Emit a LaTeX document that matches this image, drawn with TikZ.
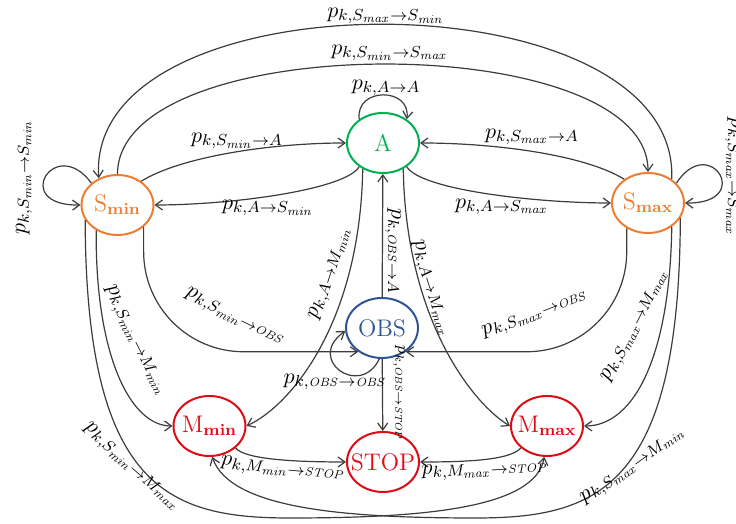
\documentclass[tikz,border=0pt]{standalone}
\usepackage{tikz}
\usetikzlibrary{
  arrows.meta,
  shapes.geometric,
  positioning
}
\definecolor{stgreen}{RGB}{0,176,80}
\definecolor{storange}{RGB}{237,125,49}
\definecolor{stblue}{RGB}{47,85,151}
\definecolor{stred}{RGB}{222,10,20}
\definecolor{edgegray}{RGB}{60,60,60}

\begin{document}
\begin{tikzpicture}[
  x=0.5pt, y=0.5pt,
  state/.style={
    ellipse,
    draw=#1,
    text=#1,
    line width=1pt,
    minimum width=36pt,
    minimum height=30pt,
    inner xsep=-4pt,
    inner ysep=1pt,
    font=\large,
  },
  state/.default=black,
  trans/.style={-{Straight Barb[length=3.5pt,width=5pt]}, line width=0.6pt, draw=edgegray},
  prob/.style={
    font=\fontsize{10.95}{13}\selectfont,
    inner sep=0pt,
  },
]
\useasboundingbox (0,0) rectangle (736,524);

% ── States ──
\node[state=stgreen] (a) at (383,381) {A};
\node[state=storange] (smin) at (117.5,319) {$\mathrm{S}_{\mathbf{min}}$};
\node[state=storange] (smax) at (648,321) {$\mathrm{S}_{\mathbf{max}}$};
\node[state=stblue] (obs) at (382,196) {OBS};
\node[state=stred] (mmin) at (209.5,98) {$\mathrm{M}_{\mathbf{min}}$};
\node[state=stred] (mmax) at (547,98) {$\mathrm{M}_{\mathbf{max}}$};
\node[state=stred] (stop) at (383,62) {STOP};

% ── Top arcs between S states ──
\draw[trans] (smin.north) .. controls (118,496) and (648,496) .. (smax.north);
\draw[trans] (smax.45) .. controls (680,551) and (85,551) .. (smin.125);

% ── Self loops ──
\draw[trans] (smin.140) .. controls (55,390) and (10,318) .. (smin.west);
\draw[trans] (smax.35) .. controls (710,392) and (755,320) .. (smax.east);
\draw[trans] (a.135) .. controls (355,437) and (411,437) .. (a.45);
\draw[trans] (obs.265) .. controls (360,125) and (305,165) .. (obs.185);

% ── S <-> A ──
\draw[trans] (smin.45) .. controls (180,367) and (270,381) .. (a.west);
\draw[trans] (a.225) .. controls (345,334) and (230,319) .. (smin.east);
\draw[trans] (smax.135) .. controls (585,369) and (496,381) .. (a.east);
\draw[trans] (a.-45) .. controls (421,334) and (536,321) .. (smax.west);

% ── OBS ──
\draw[trans] (obs) -- (a);
\draw[trans] (obs) -- (stop);
\draw[trans, rounded corners=50pt] (smin.-40) |- (obs.225);
\draw[trans, rounded corners=50pt] (smax.230) |- (obs.-45);

% ── A -> M ──
\draw[trans] (a.232) .. controls (360,200) and (290,118) .. (mmin.east);
\draw[trans] (a.-52) .. controls (406,200) and (476,118) .. (mmax.west);

% ── S -> M ──
\draw[trans] (smin.230) .. controls (95,170) and (130,98) .. (mmin.west);
\draw[trans] (smax.-45) .. controls (670,170) and (635,98) .. (mmax.east);

% ── Crossing arcs at the bottom ──
\coordinate (lowL) at (290,6);
\coordinate (lowR) at (475.5,6);
\draw[trans] (smin.205) .. controls (86,34) and (170,6) .. (lowL)
  .. controls (420,6) and (535,15) .. (mmax.-95);
\draw[trans] (smax.-25) .. controls (679.5,34) and (595.5,6) .. (lowR)
  .. controls (345.5,6) and (230.5,15) .. (mmin.-85);

% ── M -> STOP ──
\draw[trans] (mmin.-40) .. controls (245,64) and (300,62) .. (stop.west);
\draw[trans] (mmax.-140) .. controls (510,63) and (460,62) .. (stop.east);

% ── Probabilities ──
\node[prob] (lsmaxsmin) at (386,508) {$p_{k,S_{\mathit{max}}\rightarrow S_{\mathit{min}}}$};
\node[prob] (lsminsmax) at (390,471) {$p_{k,S_{\mathit{min}}\rightarrow S_{\mathit{max}}}$};
\node[prob] (laa) at (386,436) {$p_{k,A\rightarrow A}$};
\node[prob] (lsmina) at (237,383) {$p_{k,S_{\mathit{min}}\rightarrow A}$};
\node[prob] (lasmin) at (268,316) {$p_{k,A\rightarrow S_{\mathit{min}}}$};
\node[prob] (lsmaxa) at (532,387) {$p_{k,S_{\mathit{max}}\rightarrow A}$};
\node[prob] (lasmax) at (502,317) {$p_{k,A\rightarrow S_{\mathit{max}}}$};
\node[prob, rotate=90] (lsminsmin) at (24,347) {$p_{k,S_{\mathit{min}}\rightarrow S_{\mathit{min}}}$};
\node[prob, rotate=-90] (lsmaxsmax) at (733,347) {$p_{k,S_{\mathit{max}}\rightarrow S_{\mathit{max}}}$};
\node[prob, rotate=-90] (lobsa) at (393,273) {$p_{k,{\scriptscriptstyle\mathit{OBS}}\rightarrow A}$};
\node[prob, rotate=-90, font=\fontsize{8.5}{10}\selectfont] (lobsstop) at (399,131) {$p_{k,{\scriptscriptstyle\mathit{OBS}}\rightarrow {\scriptscriptstyle\mathit{STOP}}}$};
\node[prob] (lobsobs) at (335,142) {$p_{k,{\scriptscriptstyle\mathit{OBS}}\rightarrow {\scriptscriptstyle\mathit{OBS}}}$};
\node[prob, rotate=72] (lammin) at (330,251) {$p_{k,A\rightarrow M_{\mathit{min}}}$};
\node[prob, rotate=-72] (lammax) at (431,235) {$p_{k,A\rightarrow M_{\mathit{max}}}$};
\node[prob, rotate=-26] (lsminobs) at (235,207) {$p_{k,S_{\mathit{min}}\rightarrow {\scriptscriptstyle\mathit{OBS}}}$};
\node[prob, rotate=21] (lsmaxobs) at (535,210) {$p_{k,S_{\mathit{max}}\rightarrow {\scriptscriptstyle\mathit{OBS}}}$};
\node[prob, rotate=-63] (lsminmmin) at (136,183) {$p_{k,S_{\mathit{min}}\rightarrow M_{\mathit{min}}}$};
\node[prob, rotate=63] (lsmaxmmax) at (635,199) {$p_{k,S_{\mathit{max}}\rightarrow M_{\mathit{max}}}$};
\node[prob, rotate=-41] (lsminmmax) at (132,57) {$p_{k,S_{\mathit{min}}\rightarrow M_{\mathit{max}}}$};
\node[prob, rotate=36] (lsmaxmmin) at (633,59) {$p_{k,S_{\mathit{max}}\rightarrow M_{\mathit{min}}}$};
\node[prob, rotate=-5] (lmminstop) at (283,55) {$p_{k,M_{\mathit{min}}\rightarrow {\scriptscriptstyle\mathit{STOP}}}$};
\node[prob, rotate=3] (lmmaxstop) at (485,54) {$p_{k,M_{\mathit{max}}\rightarrow {\scriptscriptstyle\mathit{STOP}}}$};

\end{tikzpicture}
\end{document}
